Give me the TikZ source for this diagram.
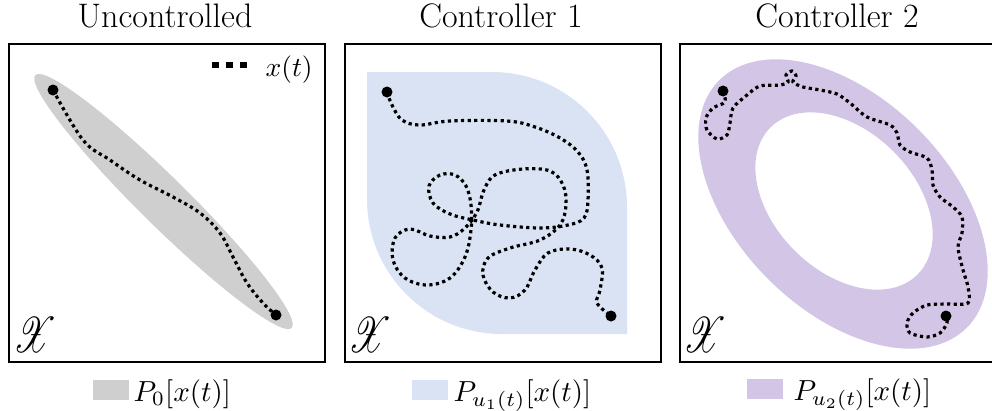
\documentclass[tikz,border=0pt]{standalone}
\usepackage{amsmath,amssymb}
\usepackage{mathrsfs}
\usetikzlibrary{positioning}

\definecolor{uncgray}{RGB}{207,207,207}
\definecolor{ctrlblue}{RGB}{218,227,243}
\definecolor{ctrlpurple}{RGB}{211,197,230}

\tikzset{
  panel/.style={draw, line width=2.5pt, minimum width=316pt, minimum height=318pt, inner sep=0pt},
  traj/.style={line width=3.2pt, dash pattern=on 3.2pt off 3.4pt},
  enddot/.style={circle, fill=black, inner sep=0pt, minimum size=11pt},
  paneltitle/.style={font=\fontsize{34}{40}\selectfont, inner sep=0pt, anchor=base},
  mlabel/.style={scale=2.9, inner sep=0pt, anchor=base west},
  spacelabel/.style={xscale=3.6, yscale=5, inner sep=0pt, anchor=base west},
  keybox/.style={minimum width=36pt, minimum height=20pt, inner sep=0pt},
}

\begin{document}
\begin{tikzpicture}[x=1pt, y=-1pt]
  \useasboundingbox (0,0) rectangle (992,410);

  % regions of the state space
  \fill[uncgray] (163.5,201.5) ellipse [x radius=180, y radius=24, rotate=-44.6];
  \fill[ctrlblue] (367,72) -- (492,72) arc[start angle=90, end angle=0, radius=135pt]
    -- (627,334) -- (502,334) arc[start angle=270, end angle=180, radius=135pt] -- cycle;
  \fill[ctrlpurple, even odd rule] (843,204) ellipse [x radius=175, y radius=106, rotate=-45]
    (844,201) ellipse [x radius=104, y radius=70, rotate=-45];

  % frames and titles
  \node[panel] (box1) at (167,203) {};
  \node[panel] (box2) at (503,203) {};
  \node[panel] (box3) at (838,203) {};
  \node[paneltitle] (title1) at (165,27) {Uncontrolled};
  \node[paneltitle] (title2) at (501,27) {Controller 1};
  \node[paneltitle] (title3) at (837,27) {Controller 2};

  % start and end points
  \node[enddot] (s1) at (53,90) {};
  \node[enddot] (e1) at (276,315) {};
  \node[enddot] (s2) at (387,92) {};
  \node[enddot] (e2) at (611,316) {};
  \node[enddot] (s3) at (723,91) {};
  \node[enddot] (e3) at (946,316) {};

  % trajectories
  \draw[traj] plot[smooth, tension=0.6] coordinates {(s1.center) (83,140) (110,160) (140,180)
    (173,197) (200,213) (220,233) (233,257) (247,283) (263,303) (e1.center)};
  \draw[traj] plot[smooth, tension=0.6] coordinates {(s2.center) (392,105) (402,120) (420,125)
    (450,121) (507,121) (535,127) (560,138) (578,152) (587,170) (588,200) (584,218) (568,225)
    (540,228) (500,225) (473,220) (450,214) (433,203) (429,186) (440,175) (455,175) (466,186)
    (471,205) (471,230) (465,257) (450,278) (427,285) (405,278) (393,260) (395,238) (410,229)
    (430,236) (450,237) (465,228) (477,212) (484,190) (495,175) (523,169) (550,171) (563,185)
    (566,205) (560,225) (540,240) (510,248) (488,258) (483,275) (493,292) (510,298) (525,290)
    (535,270) (548,253) (570,249) (590,255) (602,268) (600,290) (597,303) (e2.center)};
  \draw[traj] plot[smooth, tension=0.5] coordinates {(s3.center) (725,102) (713,108) (706,118)
    (707,130) (717,139) (727,135) (730,123) (733,108) (747,95) (760,86) (780,85) (788,82)
    (786,75) (792,71) (796,76) (793,82) (803,87) (820,90) (837,94) (850,103) (867,117)
    (890,125) (897,133) (900,145) (910,152) (927,158) (932,170) (933,185) (940,197) (953,207)
    (962,217) (962,233) (958,247) (963,270) (968,287) (968,303) (947,304) (927,305) (913,313)
    (907,323) (910,333) (927,337) (940,333) (947,323) (e3.center)};

  % key for the trajectory
  \coordinate (keyA) at (212,65);
  \coordinate (keyB) at (247,65);
  \draw[line width=5.5pt, dash pattern=on 7pt off 7pt] (keyA) -- (keyB);
  \node[mlabel, scale=0.95] (xlab) at (265,76) {$x(t)$};

  % state space labels
  \node[spacelabel] (space1) at (13,352) {$\mathscr{X}$};
  \node[spacelabel] (space2) at (348,352) {$\mathscr{X}$};
  \node[spacelabel] (space3) at (683,352) {$\mathscr{X}$};

  % legends
  \node[keybox, fill=uncgray] (key1) at (111,390) {};
  \node[keybox, fill=ctrlblue] (key2) at (430,390) {};
  \node[keybox, fill=ctrlpurple] (key3) at (764.5,389) {};
  \node[mlabel] (leg1) at (133,401) {$P_0[x(t)]$};
  \node[mlabel] (leg2) at (453,401) {$P_{u_1(t)}[x(t)]$};
  \node[mlabel] (leg3) at (793,400) {$P_{u_2(t)}[x(t)]$};
\end{tikzpicture}
\end{document}
